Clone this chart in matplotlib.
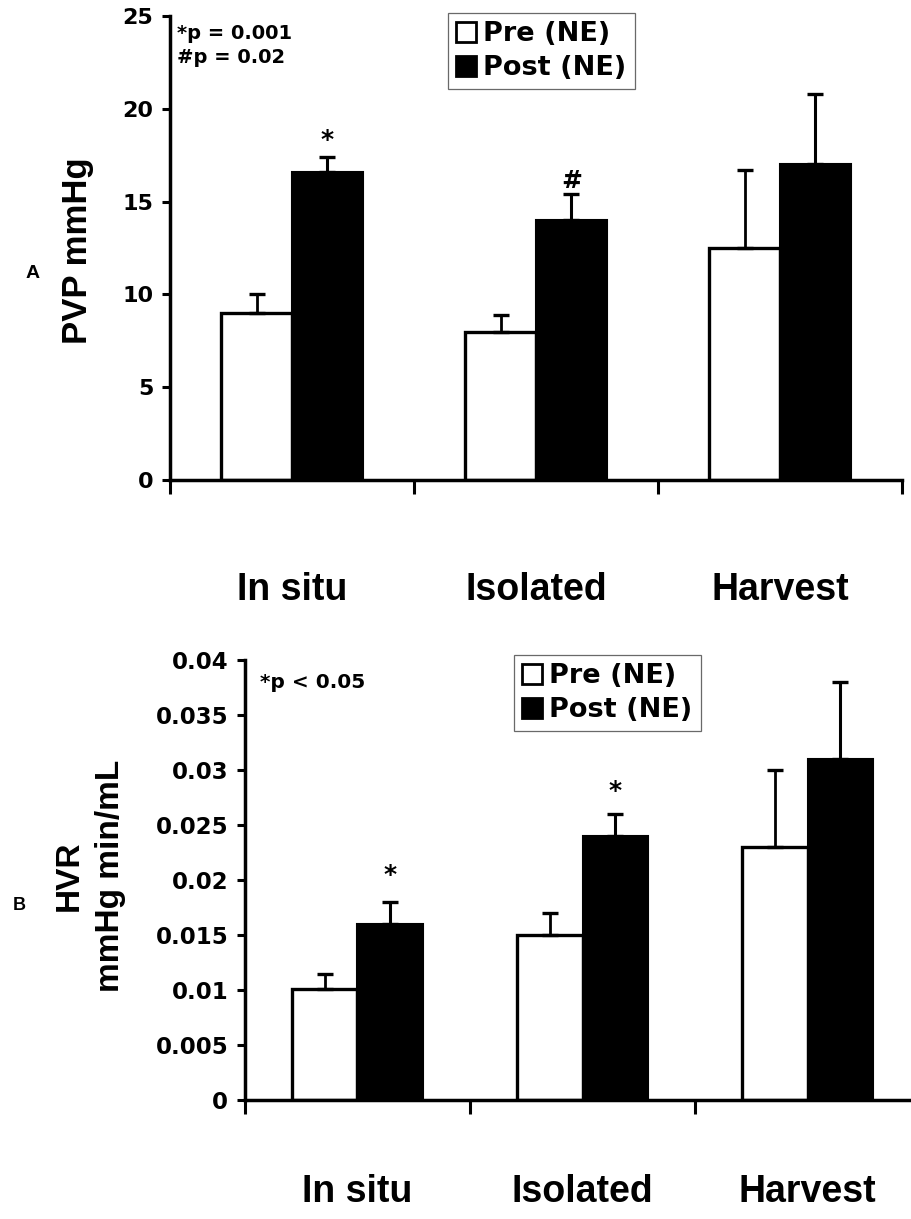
import numpy as np
import matplotlib
matplotlib.use("Agg")
import matplotlib.pyplot as plt
from matplotlib.patches import Patch

# data
groups = ["In situ", "Isolated", "Harvest"]
series = ["Pre (NE)", "Post (NE)"]

pvp_pre = [9.0, 8.0, 12.5]
pvp_pre_err = [1.0, 0.9, 4.2]
pvp_post = [16.6, 14.0, 17.0]
pvp_post_err = [0.8, 1.4, 3.8]
pvp_marks = ["*", "#", ""]
pvp_ticks = [0, 5, 10, 15, 20, 25]
pvp_note = "*p = 0.001\n#p = 0.02"

hvr_pre = [0.0101, 0.015, 0.023]
hvr_pre_err = [0.0014, 0.002, 0.007]
hvr_post = [0.016, 0.024, 0.031]
hvr_post_err = [0.002, 0.002, 0.007]
hvr_marks = ["*", "*", ""]
hvr_ticks = [0, 0.005, 0.01, 0.015, 0.02, 0.025, 0.03, 0.035, 0.04]
hvr_ticklabels = ["0", "0.005", "0.01", "0.015", "0.02", "0.025", "0.03", "0.035", "0.04"]
hvr_note = "*p < 0.05"

W, H = 912, 1219
BOLD_NUM = ["DejaVu Sans"]
CAT_FONT = ["Liberation Sans Narrow", "Liberation Sans", "DejaVu Sans"]
LAB_FONT = ["Liberation Sans", "DejaVu Sans"]

fig = plt.figure(figsize=(W / 100, H / 100), dpi=100)


def px_axes(left, top, right, bottom):
    return fig.add_axes([left / W, 1 - bottom / H, (right - left) / W, (bottom - top) / H])


def draw_panel(ax, pre, pre_err, post, post_err, marks, ylim, ticks, ticklabels,
               tick_fs, cat_pad, mark_offs):
    x = np.arange(len(groups)) + 0.5
    w = 0.29
    ax.bar(x - w / 2, pre, w, color="white", edgecolor="black", linewidth=2.4, zorder=2)
    ax.bar(x + w / 2, post, w, color="black", edgecolor="black", linewidth=1.5, zorder=2)
    ax.errorbar(x - w / 2, pre, yerr=[np.zeros(len(pre)), pre_err], fmt="none",
                ecolor="black", elinewidth=2, capsize=6, capthick=2.4, zorder=3)
    ax.errorbar(x + w / 2, post, yerr=[np.zeros(len(post)), post_err], fmt="none",
                ecolor="black", elinewidth=2.2, capsize=6, capthick=2.4, zorder=3)
    tops = np.array(post) + np.array(post_err)
    for xi, top, m, off in zip(x + w / 2, tops, marks, mark_offs):
        if m:
            ax.annotate(m, (xi, top), xytext=(0, off), textcoords="offset points",
                        ha="center", va="bottom", fontsize=18, fontweight="bold",
                        family=BOLD_NUM)
    ax.set_xlim(0, len(groups))
    ax.set_ylim(*ylim)
    ax.set_xticks(np.arange(len(groups) + 1))
    ax.set_xticklabels([])
    ax.set_xticks(x, minor=True)
    ax.set_xticklabels(groups, minor=True, fontsize=27, fontweight="bold", family=CAT_FONT)
    ax.tick_params(axis="x", which="major", length=10, width=2.2, direction="out")
    ax.tick_params(axis="x", which="minor", length=0, pad=cat_pad)
    ax.set_yticks(ticks)
    ax.set_yticklabels(ticklabels, fontsize=tick_fs, fontweight="bold", family=BOLD_NUM)
    ax.tick_params(axis="y", length=6, width=2.2, direction="out", pad=6)
    for s in ["top", "right"]:
        ax.spines[s].set_visible(False)
    for s in ["left", "bottom"]:
        ax.spines[s].set_linewidth(2.5)


def add_legend(left, top):
    handles = [Patch(facecolor="white", edgecolor="black", linewidth=2),
               Patch(facecolor="black", edgecolor="black", linewidth=2)]
    leg = fig.legend(handles, series, loc="upper left",
                     bbox_to_anchor=(left / W, 1 - top / H), bbox_transform=fig.transFigure,
                     borderaxespad=0, fancybox=False, frameon=True, handlelength=0.75,
                     handleheight=0.75, handletextpad=0.25, labelspacing=0.3, borderpad=0.3,
                     prop={"family": BOLD_NUM, "weight": "bold", "size": 19.5})
    leg.get_frame().set_edgecolor("#444444")
    leg.get_frame().set_linewidth(0.9)


# panel A
ax1 = px_axes(170, 16, 902, 480)
draw_panel(ax1, pvp_pre, pvp_pre_err, pvp_post, pvp_post_err, pvp_marks, (0, 25),
           pvp_ticks, [str(t) for t in pvp_ticks], 16, 66, [4, 1, 0])
add_legend(448, 13)
fig.text(177 / W, 1 - 24 / H, pvp_note, ha="left", va="top", fontsize=14,
         fontweight="bold", family=BOLD_NUM, linespacing=1.35)
fig.text(78 / W, 1 - 251 / H, "PVP mmHg", rotation=90, ha="center", va="center",
         fontsize=25, fontweight="bold", family=LAB_FONT)
fig.text(33 / W, 1 - 274 / H, "A", ha="center", va="center", fontsize=14,
         fontweight="bold", family=LAB_FONT)

# panel B
ax2 = px_axes(245, 660, 920, 1100)
draw_panel(ax2, hvr_pre, hvr_pre_err, hvr_post, hvr_post_err, hvr_marks, (0, 0.04),
           hvr_ticks, hvr_ticklabels, 16.5, 53, [11, 8, 0])
add_legend(514, 655)
fig.text(260 / W, 1 - 683 / H, hvr_note, ha="left", va="center", fontsize=14.5,
         fontweight="bold", family=BOLD_NUM)
fig.text(90 / W, 1 - 876 / H, "HVR\nmmHg min/mL", rotation=90, ha="center", va="center",
         fontsize=24, fontweight="bold", family=LAB_FONT, linespacing=1.45)
fig.text(19 / W, 1 - 905 / H, "B", ha="center", va="center", fontsize=13,
         fontweight="bold", family=LAB_FONT)

fig.savefig("out.png", dpi=100, facecolor="white")
